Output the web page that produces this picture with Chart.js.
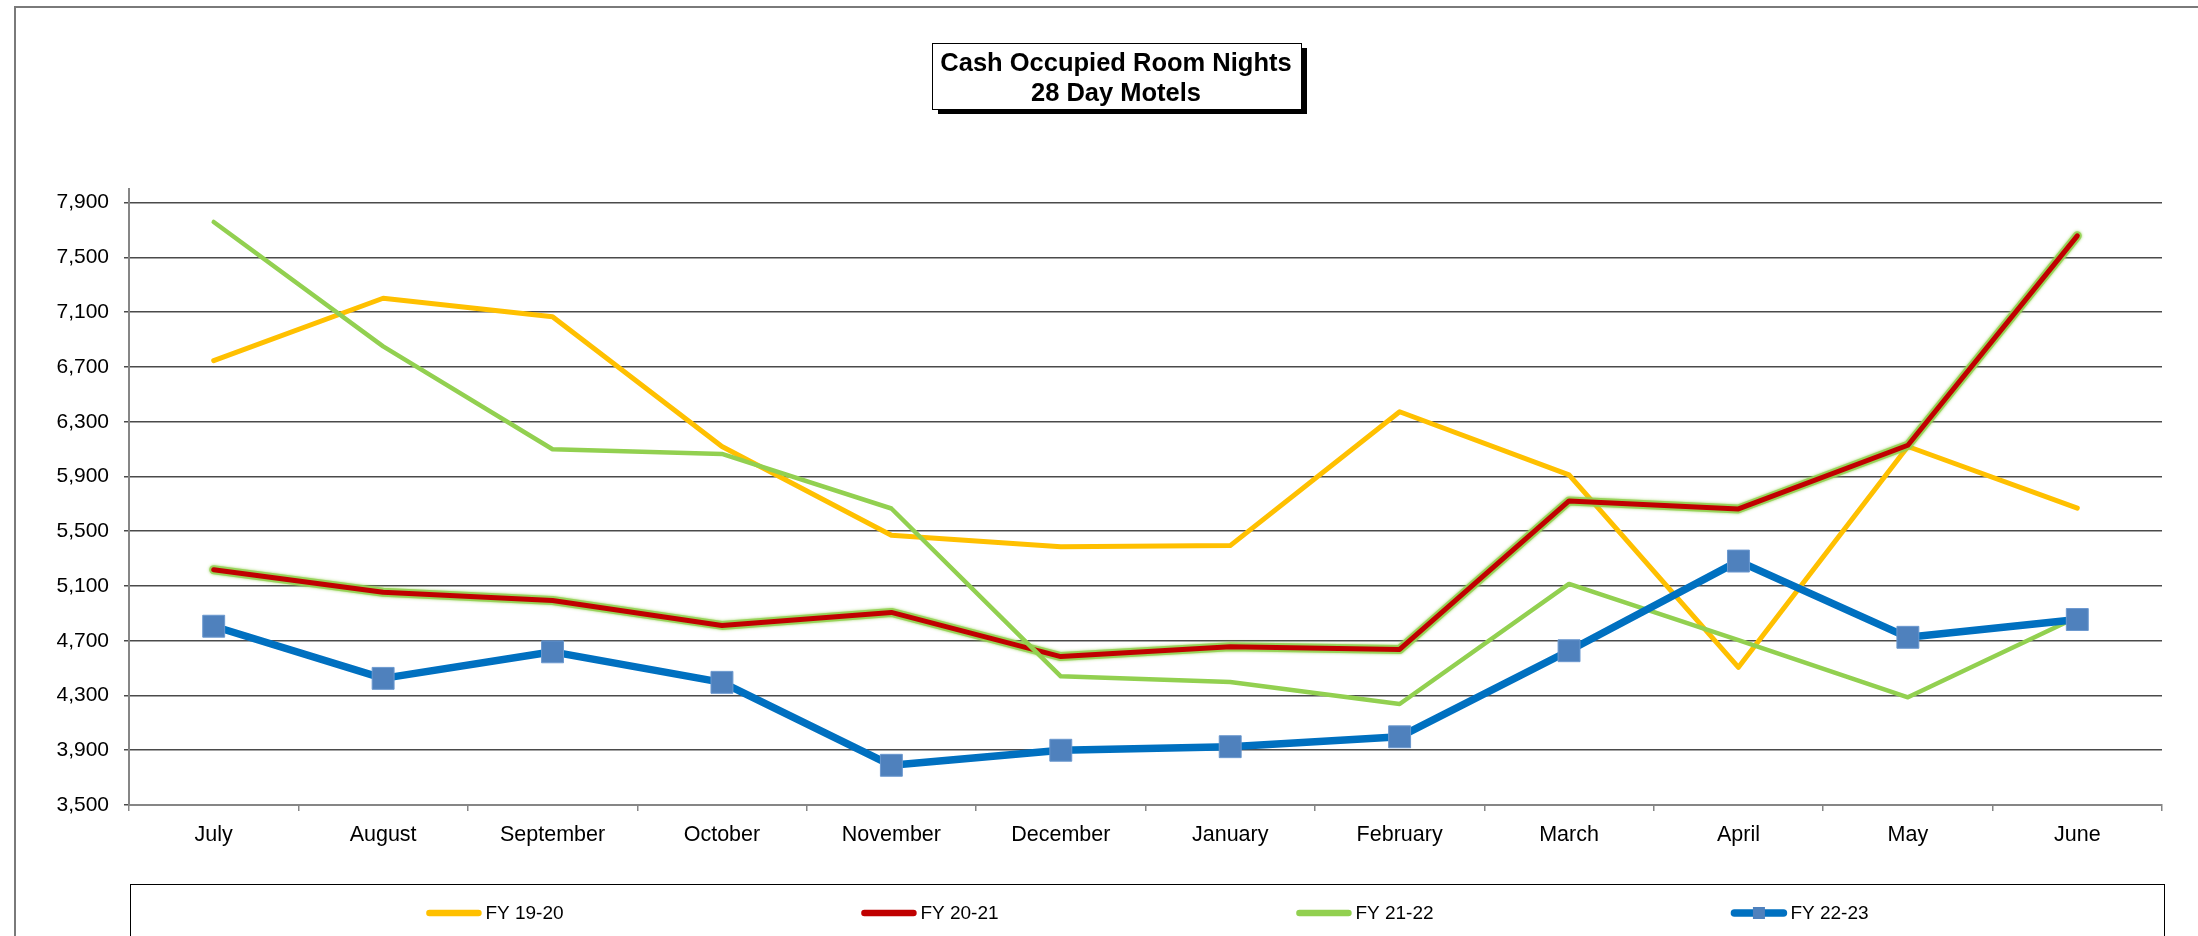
<!DOCTYPE html>
<html>
<head>
<meta charset="utf-8">
<title>Cash Occupied Room Nights</title>
<script src="https://cdn.jsdelivr.net/npm/chart.js@4.4.1/dist/chart.umd.min.js"></script>
<style>
  html, body { margin: 0; padding: 0; background: #fff; }
  canvas { display: block; }
</style>
</head>
<body>
<canvas id="roomNightsChart" width="2198" height="936"></canvas>
<script>
const months = ['July', 'August', 'September', 'October', 'November', 'December',
  'January', 'February', 'March', 'April', 'May', 'June'];

const fy1920 = [6746, 7202, 7066, 6119, 5470, 5386, 5395, 6373, 5912, 4506, 6119, 5669];
const fy2021 = [5219, 5054, 4994, 4812, 4907, 4584, 4656, 4636, 5721, 5663, 6128, 7658];
const fy2122 = [7759, 6850, 6099, 6065, 5666, 4440, 4399, 4238, 5115, 4705, 4287, 4873];
const fy2223 = [4806, 4425, 4619, 4396, 3790, 3900, 3926, 3998, 4627, 5282, 4725, 4855];

const yTicks = [3500, 3900, 4300, 4700, 5100, 5500, 5900, 6300, 6700, 7100, 7500, 7900];

const titleLines = ['Cash Occupied Room Nights', '28 Day Motels'];

const FONT = "'Liberation Sans', Arial, sans-serif";

// Excel put a green glow on the FY 20-21 line: stroke a soft wide
// green path under it, through the points the line controller placed
const glowPlugin = {
  id: 'glow',
  beforeDatasetDraw(chart, args) {
    const ds = chart.data.datasets[args.index];
    if (!ds.glowColor) return;
    const pts = args.meta.data;
    const ctx = chart.ctx;
    ctx.save();
    ctx.strokeStyle = ds.glowColor;
    ctx.globalAlpha = 0.85;
    ctx.lineWidth = ds.borderWidth + 4;
    ctx.lineJoin = 'round';
    ctx.lineCap = 'round';
    ctx.shadowColor = ds.glowColor;
    ctx.shadowBlur = 3;
    ctx.beginPath();
    pts.forEach((p, i) => (i ? ctx.lineTo(p.x, p.y) : ctx.moveTo(p.x, p.y)));
    ctx.stroke();
    ctx.restore();
  },
};

// outer border, boxed title and the boxed legend
const framePlugin = {
  id: 'frame',
  beforeDraw(chart) {
    const ctx = chart.ctx;
    ctx.save();
    ctx.fillStyle = '#fff';
    ctx.fillRect(0, 0, chart.width, chart.height);
    ctx.strokeStyle = '#7a7a7a';
    ctx.lineWidth = 2;
    ctx.strokeRect(15, 7, chart.width + 40, chart.height + 40);
    ctx.restore();
  },
  afterDraw(chart) {
    const ctx = chart.ctx;
    const area = chart.chartArea;

    // title
    ctx.save();
    ctx.font = `bold 25.5px ${FONT}`;
    const textW = Math.max(...titleLines.map((t) => ctx.measureText(t).width));
    const boxW = Math.round(textW + 18);
    const boxH = 66;
    const cx = 1116;
    const top = 43;
    const left = Math.round(cx - boxW / 2);
    ctx.fillStyle = '#000';
    ctx.fillRect(left + 6, top + 5, boxW, boxH);
    ctx.fillStyle = '#fff';
    ctx.fillRect(left, top, boxW, boxH);
    ctx.strokeStyle = '#000';
    ctx.lineWidth = 1;
    ctx.strokeRect(left + 0.5, top + 0.5, boxW, boxH);
    ctx.fillStyle = '#000';
    ctx.textAlign = 'center';
    ctx.textBaseline = 'middle';
    titleLines.forEach((t, i) => ctx.fillText(t, cx, top + 21 + i * 30));
    ctx.restore();

    // legend
    ctx.save();
    const lgTop = 884;
    ctx.strokeStyle = '#000';
    ctx.lineWidth = 1;
    ctx.strokeRect(area.left + 1.5, lgTop + 0.5, area.right - area.left + 1, 200);

    ctx.font = `19px ${FONT}`;
    ctx.textBaseline = 'middle';
    ctx.textAlign = 'left';
    const sampleW = 55;
    const gap = 4;
    const spacing = 435;
    const datasets = chart.data.datasets;
    const lastW = sampleW + gap + ctx.measureText(datasets[datasets.length - 1].label).width;
    let x = (area.left + area.right) / 2 + 2 - ((datasets.length - 1) * spacing + lastW) / 2;
    const y = 913;
    datasets.forEach((ds) => {
      ctx.strokeStyle = ds.borderColor;
      ctx.lineWidth = Math.max(ds.borderWidth, 6.5);
      ctx.lineCap = 'round';
      ctx.beginPath();
      ctx.moveTo(x + 3, y);
      ctx.lineTo(x + sampleW - 3, y);
      ctx.stroke();
      if (ds.pointRadius > 0) {
        ctx.fillStyle = ds.pointBackgroundColor;
        ctx.fillRect(x + sampleW / 2 - 6, y - 6, 12, 12);
      }
      ctx.fillStyle = '#000';
      ctx.fillText(ds.label, x + sampleW + gap, y + 1);
      x += spacing;
    });
    ctx.restore();
  },
};

new Chart(document.getElementById('roomNightsChart'), {
  type: 'line',
  data: {
    labels: months,
    datasets: [
      {
        label: 'FY 19-20',
        data: fy1920,
        borderColor: '#FFC000',
        borderWidth: 5,
        pointRadius: 0,
        order: 4,
      },
      {
        label: 'FY 20-21',
        data: fy2021,
        borderColor: '#C00000',
        borderWidth: 5,
        pointRadius: 0,
        glowColor: '#92D050',
        order: 3,
      },
      {
        label: 'FY 21-22',
        data: fy2122,
        borderColor: '#92D050',
        borderWidth: 4.5,
        pointRadius: 0,
        order: 2,
      },
      {
        label: 'FY 22-23',
        data: fy2223,
        borderColor: '#0070C0',
        borderWidth: 7.5,
        pointStyle: 'rect',
        pointRadius: 15.5,
        pointBackgroundColor: '#4F81BD',
        pointBorderColor: '#6B98CF',
        pointBorderWidth: 1,
        order: 1,
      },
    ],
  },
  options: {
    responsive: false,
    animation: false,
    events: [],
    layout: { padding: { top: 189, right: 36, bottom: 0, left: 0 } },
    plugins: {
      legend: { display: false },
      title: { display: false },
      tooltip: { enabled: false },
    },
    elements: {
      line: { tension: 0, borderJoinStyle: 'round', borderCapStyle: 'round' },
    },
    scales: {
      x: {
        offset: true,
        grid: {
          offset: true,
          drawOnChartArea: false,
          drawTicks: true,
          tickLength: 6,
          color: '#868686',
          lineWidth: 1.5,
        },
        border: { color: '#868686', width: 2 },
        ticks: {
          color: '#000',
          font: { family: FONT, size: 21.5 },
          padding: 11,
          maxRotation: 0,
          autoSkip: false,
        },
        afterFit(scale) {
          scale.height = 131;
        },
      },
      y: {
        min: 3500,
        max: 8000,
        afterBuildTicks(scale) {
          scale.ticks = yTicks.map((v) => ({ value: v }));
        },
        grid: { color: '#4a4a4a', lineWidth: 1.5, tickLength: 5 },
        border: { color: '#868686', width: 2 },
        ticks: {
          color: '#000',
          font: { family: FONT, size: 21 },
          padding: 15,
          callback: (v) => v.toLocaleString('en-US'),
        },
        afterFit(scale) {
          scale.width = 129;
        },
      },
    },
  },
  plugins: [framePlugin, glowPlugin],
});
</script>
</body>
</html>
